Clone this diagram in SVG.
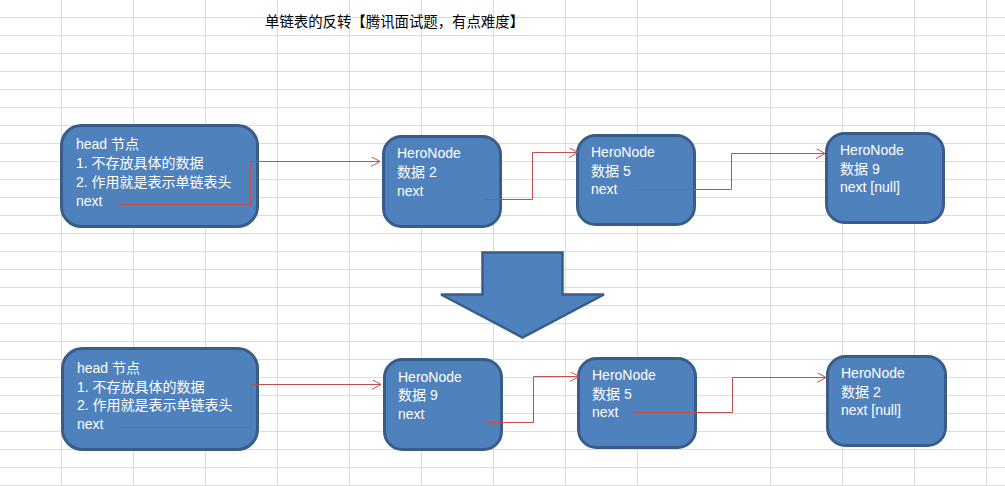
<svg xmlns="http://www.w3.org/2000/svg" width="1005" height="486" viewBox="0 0 1005 486">
  <style>
    .grid line { stroke: #dadcdd; stroke-width: 1; }
    .node rect { fill: #4f81bd; stroke: #385d8a; stroke-width: 3; }
    .node text { fill: #ffffff; font-family: "Liberation Sans", "Noto Sans CJK SC", sans-serif; font-size: 14px; }
    .title { fill: #000000; font-family: "Noto Sans CJK SC", sans-serif; font-size: 14.4px; }
    .conn path { fill: none; stroke: #c0504d; stroke-width: 1; }
    .bigarrow { fill: #4f81bd; stroke: #385d8a; stroke-width: 2.5; stroke-linejoin: miter; }
  </style>
  <defs>
    <marker id="open" markerUnits="userSpaceOnUse" markerWidth="12" markerHeight="12" refX="9" refY="5" orient="auto" viewBox="0 0 12 12">
      <path d="M0,0 L9,5 L0,10" fill="none" stroke="#c0504d" stroke-width="1"/>
    </marker>
  </defs>
  <rect x="0" y="0" width="1005" height="486" fill="#ffffff"/>
  <g class="grid">
    <line x1="61.5" y1="0" x2="61.5" y2="486"/>
    <line x1="133.5" y1="0" x2="133.5" y2="486"/>
    <line x1="205.5" y1="0" x2="205.5" y2="486"/>
    <line x1="277.5" y1="0" x2="277.5" y2="486"/>
    <line x1="349.5" y1="0" x2="349.5" y2="486"/>
    <line x1="421.5" y1="0" x2="421.5" y2="486"/>
    <line x1="493.5" y1="0" x2="493.5" y2="486"/>
    <line x1="565.5" y1="0" x2="565.5" y2="486"/>
    <line x1="637.5" y1="0" x2="637.5" y2="486"/>
    <line x1="770.5" y1="0" x2="770.5" y2="486"/>
    <line x1="842.5" y1="0" x2="842.5" y2="486"/>
    <line x1="914.5" y1="0" x2="914.5" y2="486"/>
    <line x1="986.5" y1="0" x2="986.5" y2="486"/>
    <line x1="0" y1="17.5" x2="1005" y2="17.5"/>
    <line x1="0" y1="35.5" x2="1005" y2="35.5"/>
    <line x1="0" y1="53.5" x2="1005" y2="53.5"/>
    <line x1="0" y1="71.5" x2="1005" y2="71.5"/>
    <line x1="0" y1="89.5" x2="1005" y2="89.5"/>
    <line x1="0" y1="107.5" x2="1005" y2="107.5"/>
    <line x1="0" y1="125.5" x2="1005" y2="125.5"/>
    <line x1="0" y1="143.5" x2="1005" y2="143.5"/>
    <line x1="0" y1="161.5" x2="1005" y2="161.5"/>
    <line x1="0" y1="179.5" x2="1005" y2="179.5"/>
    <line x1="0" y1="197.5" x2="1005" y2="197.5"/>
    <line x1="0" y1="215.5" x2="1005" y2="215.5"/>
    <line x1="0" y1="233.5" x2="1005" y2="233.5"/>
    <line x1="0" y1="251.5" x2="1005" y2="251.5"/>
    <line x1="0" y1="269.5" x2="1005" y2="269.5"/>
    <line x1="0" y1="287.5" x2="1005" y2="287.5"/>
    <line x1="0" y1="305.5" x2="1005" y2="305.5"/>
    <line x1="0" y1="323.5" x2="1005" y2="323.5"/>
    <line x1="0" y1="341.5" x2="1005" y2="341.5"/>
    <line x1="0" y1="359.5" x2="1005" y2="359.5"/>
    <line x1="0" y1="377.5" x2="1005" y2="377.5"/>
    <line x1="0" y1="395.5" x2="1005" y2="395.5"/>
    <line x1="0" y1="413.5" x2="1005" y2="413.5"/>
    <line x1="0" y1="431.5" x2="1005" y2="431.5"/>
    <line x1="0" y1="449.5" x2="1005" y2="449.5"/>
    <line x1="0" y1="467.5" x2="1005" y2="467.5"/>
    <line x1="0" y1="485.5" x2="1005" y2="485.5"/>
  </g>
  <text class="title" x="265" y="27">单链表的反转【腾讯面试题，有点难度】</text>

  <g id="head-top" class="node">
    <rect x="61.5" y="125.5" width="196" height="101" rx="20" ry="20"/>
    <text x="76" y="149">head 节点</text>
    <text x="76" y="168">1. 不存放具体的数据</text>
    <text x="76" y="187">2. 作用就是表示单链表头</text>
    <text x="76" y="206">next</text>
  </g>
  <g id="node2-top" class="node">
    <rect x="383.5" y="136.5" width="117" height="90" rx="18" ry="18"/>
    <text x="397" y="158">HeroNode</text>
    <text x="397" y="177">数据 2</text>
    <text x="397" y="196">next</text>
  </g>
  <g id="node5-top" class="node">
    <rect x="577.5" y="135.5" width="117" height="89" rx="18" ry="18"/>
    <text x="591" y="157">HeroNode</text>
    <text x="591" y="176">数据 5</text>
    <text x="591" y="194">next</text>
  </g>
  <g id="node9-top" class="node">
    <rect x="826.5" y="133.5" width="117" height="89" rx="18" ry="18"/>
    <text x="840" y="155">HeroNode</text>
    <text x="840" y="174">数据 9</text>
    <text x="840" y="192">next [null]</text>
  </g>

  <polygon id="down-arrow" class="bigarrow" points="482.5,252.5 562.5,252.5 562.5,294.5 604,294.5 522.5,337.5 441,294.5 482.5,294.5"/>

  <g id="head-bottom" class="node">
    <rect x="62.5" y="348.5" width="195" height="101" rx="20" ry="20"/>
    <text x="77" y="373">head 节点</text>
    <text x="77" y="392">1. 不存放具体的数据</text>
    <text x="77" y="410">2. 作用就是表示单链表头</text>
    <text x="77" y="429">next</text>
  </g>
  <g id="node9-bottom" class="node">
    <rect x="384.5" y="359.5" width="117" height="90" rx="18" ry="18"/>
    <text x="398" y="382">HeroNode</text>
    <text x="398" y="400">数据 9</text>
    <text x="398" y="419">next</text>
  </g>
  <g id="node5-bottom" class="node">
    <rect x="578.5" y="358.5" width="117" height="89" rx="18" ry="18"/>
    <text x="592" y="380">HeroNode</text>
    <text x="592" y="399">数据 5</text>
    <text x="592" y="417">next</text>
  </g>
  <g id="node2-bottom" class="node">
    <rect x="827.5" y="356.5" width="118" height="89" rx="18" ry="18"/>
    <text x="841" y="378">HeroNode</text>
    <text x="841" y="397">数据 2</text>
    <text x="841" y="415">next [null]</text>
  </g>

  <g id="connectors" class="conn">
    <path d="M118,204.5 H250.5 V161.5 H380" marker-end="url(#open)"/>
    <path d="M484,199.5 H532.5 V152.5 H578" marker-end="url(#open)"/>
    <path d="M633,189.5 H731.5 V153.5 H825" marker-end="url(#open)"/>
    <path d="M119,427.5 H251.5 V384.5 H381" marker-end="url(#open)"/>
    <path d="M486,422.5 H533.5 V376.5 H579" marker-end="url(#open)"/>
    <path d="M633,412.5 H732.5 V377.5 H826" marker-end="url(#open)"/>
  </g>
</svg>
